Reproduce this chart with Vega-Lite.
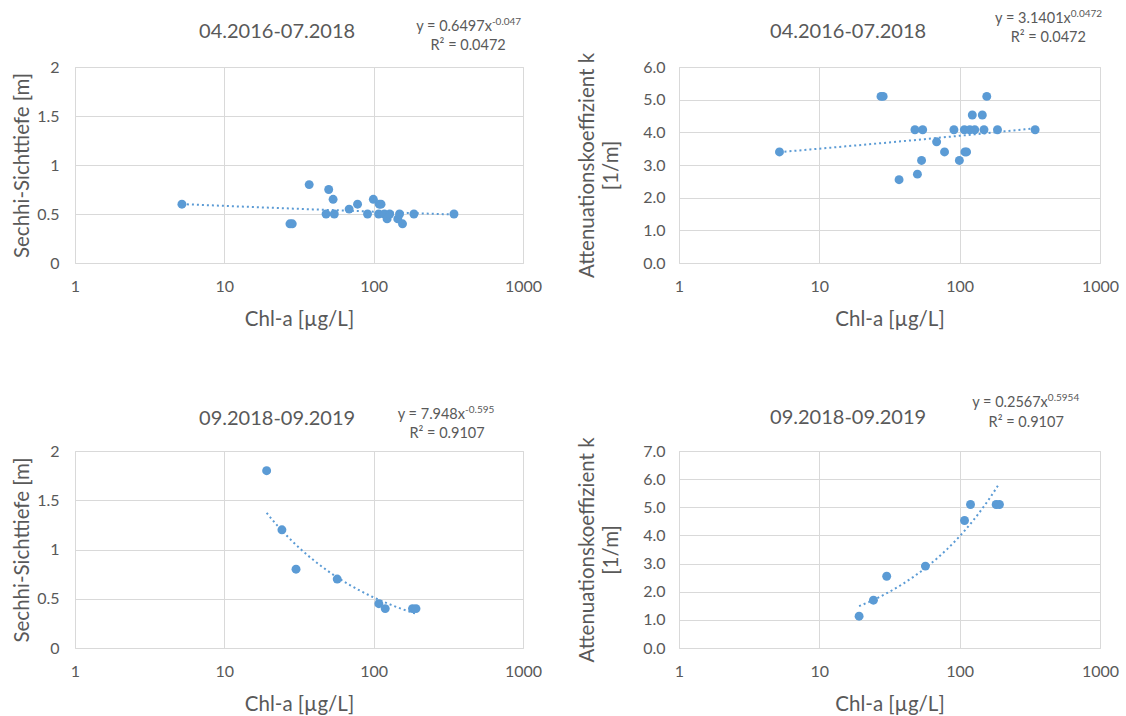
{
  "$schema": "https://vega.github.io/schema/vega-lite/v6.json",
  "padding": {"left": 12, "top": 8, "right": 0, "bottom": 0},
  "background": "white",
  "datasets": {
    "top": [
      {"chl": 5.2, "sd": 0.6, "k": 3.4},
      {"chl": 27.5, "sd": 0.4, "k": 5.1},
      {"chl": 28.5, "sd": 0.4, "k": 5.1},
      {"chl": 37, "sd": 0.8, "k": 2.55},
      {"chl": 48, "sd": 0.5, "k": 4.08},
      {"chl": 50, "sd": 0.75, "k": 2.72},
      {"chl": 53.5, "sd": 0.65, "k": 3.14},
      {"chl": 54.5, "sd": 0.5, "k": 4.08},
      {"chl": 68.5, "sd": 0.55, "k": 3.71},
      {"chl": 78, "sd": 0.6, "k": 3.4},
      {"chl": 91, "sd": 0.5, "k": 4.08},
      {"chl": 99.5, "sd": 0.65, "k": 3.14},
      {"chl": 108, "sd": 0.5, "k": 4.08},
      {"chl": 109, "sd": 0.6, "k": 3.4},
      {"chl": 112, "sd": 0.6, "k": 3.4},
      {"chl": 118, "sd": 0.5, "k": 4.08},
      {"chl": 123, "sd": 0.45, "k": 4.53},
      {"chl": 128, "sd": 0.5, "k": 4.08},
      {"chl": 145, "sd": 0.45, "k": 4.53},
      {"chl": 149, "sd": 0.5, "k": 4.08},
      {"chl": 156, "sd": 0.4, "k": 5.1},
      {"chl": 186, "sd": 0.5, "k": 4.08},
      {"chl": 345, "sd": 0.5, "k": 4.08}
    ],
    "bottom": [
      {"chl": 19.2, "sd": 1.8, "k": 1.13},
      {"chl": 24.3, "sd": 1.2, "k": 1.7},
      {"chl": 30.2, "sd": 0.8, "k": 2.55},
      {"chl": 57, "sd": 0.7, "k": 2.91},
      {"chl": 108.3, "sd": 0.45, "k": 4.53},
      {"chl": 119.5, "sd": 0.4, "k": 5.1},
      {"chl": 182, "sd": 0.4, "k": 5.1},
      {"chl": 192, "sd": 0.4, "k": 5.1}
    ],
    "eq": [
      {"panel": "TL", "main": "y = 0.6497x", "sup": "-0.047", "r2": "R² = 0.0472"},
      {"panel": "TR", "main": "y = 3.1401x", "sup": "0.0472", "r2": "R² = 0.0472"},
      {"panel": "BL", "main": "y = 7.948x", "sup": "-0.595", "r2": "R² = 0.9107"},
      {"panel": "BR", "main": "y = 0.2567x", "sup": "0.5954", "r2": "R² = 0.9107"}
    ]
  },
  "config": {
    "font": "Lato",
    "view": {"stroke": "#D9D9D9", "strokeWidth": 1},
    "axis": {
      "gridColor": "#D9D9D9",
      "domain": false,
      "ticks": false,
      "tickSize": 0,
      "labelColor": "#595959",
      "titleColor": "#595959",
      "labelFontSize": 16,
      "titleFontSize": 20.5,
      "titleFontWeight": "normal",
      "labelFont": "Lato",
      "titleFont": "Lato",
      "titleLineHeight": 24
    },
    "axisX": {"labelPadding": 15, "titlePadding": 15, "labelFlush": false},
    "title": {"font": "Lato", "fontSize": 20, "fontWeight": "normal", "color": "#595959", "frame": "bounds", "anchor": "middle"},
    "text": {"font": "Lato", "color": "#595959"}
  },
  "vconcat": [
    {
      "hconcat": [
        {
          "width": 448, "height": 196,
          "title": {"text": "04.2016-07.2018", "offset": -25},
          "layer": [
            {
              "data": {"name": "top"},
              "mark": {"type": "point", "filled": true, "size": 80, "opacity": 1, "color": "#5B9BD5"},
              "encoding": {
                "x": {"field": "chl", "type": "quantitative", "scale": {"type": "log", "domain": [1, 1000]}, "axis": {"values": [1, 10, 100, 1000], "format": "d", "title": "Chl-a [µg/L]"}},
                "y": {"field": "sd", "type": "quantitative", "scale": {"domain": [0, 2]}, "axis": {"values": [0, 0.5, 1, 1.5, 2], "format": "~g", "title": "Sechhi-Sichttiefe [m]", "labelPadding": 16, "titlePadding": 4}}
              }
            },
            {
              "data": {"name": "top"},
              "transform": [{"regression": "sd", "on": "chl", "method": "pow"}],
              "mark": {"type": "line", "color": "#5B9BD5", "strokeWidth": 2, "strokeDash": [2, 3]},
              "encoding": {
                "x": {"field": "chl", "type": "quantitative", "axis": {"values": [1, 10, 100, 1000], "format": "d", "title": "Chl-a [µg/L]"}},
                "y": {"field": "sd", "type": "quantitative", "axis": {"values": [0, 0.5, 1, 1.5, 2], "format": "~g", "title": "Sechhi-Sichttiefe [m]", "labelPadding": 16, "titlePadding": 4}}
              }
            },
            {
              "data": {"name": "eq"},
              "transform": [{"filter": "datum.panel == 'TL'"}],
              "mark": {"type": "text", "align": "right", "baseline": "middle", "fontSize": 14.5, "clip": false},
              "encoding": {"x": {"datum": 619, "type": "quantitative", "axis": {"values": [1, 10, 100, 1000], "format": "d", "title": "Chl-a [µg/L]"}}, "y": {"datum": 2.407, "type": "quantitative", "axis": {"values": [0, 0.5, 1, 1.5, 2], "format": "~g", "title": "Sechhi-Sichttiefe [m]", "labelPadding": 16, "titlePadding": 4}}, "text": {"field": "main"}}
            },
            {
              "data": {"name": "eq"},
              "transform": [{"filter": "datum.panel == 'TL'"}],
              "mark": {"type": "text", "align": "left", "baseline": "middle", "fontSize": 10, "dy": -5, "clip": false},
              "encoding": {"x": {"datum": 619, "type": "quantitative", "axis": {"values": [1, 10, 100, 1000], "format": "d", "title": "Chl-a [µg/L]"}}, "y": {"datum": 2.407, "type": "quantitative", "axis": {"values": [0, 0.5, 1, 1.5, 2], "format": "~g", "title": "Sechhi-Sichttiefe [m]", "labelPadding": 16, "titlePadding": 4}}, "text": {"field": "sup"}}
            },
            {
              "data": {"name": "eq"},
              "transform": [{"filter": "datum.panel == 'TL'"}],
              "mark": {"type": "text", "align": "center", "baseline": "middle", "fontSize": 14.5, "clip": false},
              "encoding": {"x": {"datum": 429, "type": "quantitative", "axis": {"values": [1, 10, 100, 1000], "format": "d", "title": "Chl-a [µg/L]"}}, "y": {"datum": 2.211, "type": "quantitative", "axis": {"values": [0, 0.5, 1, 1.5, 2], "format": "~g", "title": "Sechhi-Sichttiefe [m]", "labelPadding": 16, "titlePadding": 4}}, "text": {"field": "r2"}}
            }
          ]
        },
        {
          "width": 421, "height": 196,
          "title": {"text": "04.2016-07.2018", "offset": -33},
          "layer": [
            {
              "data": {"name": "top"},
              "mark": {"type": "point", "filled": true, "size": 80, "opacity": 1, "color": "#5B9BD5"},
              "encoding": {
                "x": {"field": "chl", "type": "quantitative", "scale": {"type": "log", "domain": [1, 1000]}, "axis": {"values": [1, 10, 100, 1000], "format": "d", "title": "Chl-a [µg/L]"}},
                "y": {"field": "k", "type": "quantitative", "scale": {"domain": [0, 6]}, "axis": {"values": [0, 1, 2, 3, 4, 5, 6], "format": ".1f", "title": ["Attenuationskoeffizient k", "[1/m]"], "labelPadding": 14, "titlePadding": 21}}
              }
            },
            {
              "data": {"name": "top"},
              "transform": [{"regression": "k", "on": "chl", "method": "pow"}],
              "mark": {"type": "line", "color": "#5B9BD5", "strokeWidth": 2, "strokeDash": [2, 3]},
              "encoding": {
                "x": {"field": "chl", "type": "quantitative", "axis": {"values": [1, 10, 100, 1000], "format": "d", "title": "Chl-a [µg/L]"}},
                "y": {"field": "k", "type": "quantitative", "axis": {"values": [0, 1, 2, 3, 4, 5, 6], "format": ".1f", "title": ["Attenuationskoeffizient k", "[1/m]"], "labelPadding": 14, "titlePadding": 21}}
              }
            },
            {
              "data": {"name": "eq"},
              "transform": [{"filter": "datum.panel == 'TR'"}],
              "mark": {"type": "text", "align": "right", "baseline": "middle", "fontSize": 14.5, "clip": false},
              "encoding": {"x": {"datum": 619, "type": "quantitative", "axis": {"values": [1, 10, 100, 1000], "format": "d", "title": "Chl-a [µg/L]"}}, "y": {"datum": 7.455, "type": "quantitative", "axis": {"values": [0, 1, 2, 3, 4, 5, 6], "format": ".1f", "title": ["Attenuationskoeffizient k", "[1/m]"], "labelPadding": 14, "titlePadding": 21}}, "text": {"field": "main"}}
            },
            {
              "data": {"name": "eq"},
              "transform": [{"filter": "datum.panel == 'TR'"}],
              "mark": {"type": "text", "align": "left", "baseline": "middle", "fontSize": 10, "dy": -5, "clip": false},
              "encoding": {"x": {"datum": 619, "type": "quantitative", "axis": {"values": [1, 10, 100, 1000], "format": "d", "title": "Chl-a [µg/L]"}}, "y": {"datum": 7.455, "type": "quantitative", "axis": {"values": [0, 1, 2, 3, 4, 5, 6], "format": ".1f", "title": ["Attenuationskoeffizient k", "[1/m]"], "labelPadding": 14, "titlePadding": 21}}, "text": {"field": "sup"}}
            },
            {
              "data": {"name": "eq"},
              "transform": [{"filter": "datum.panel == 'TR'"}],
              "mark": {"type": "text", "align": "center", "baseline": "middle", "fontSize": 14.5, "clip": false},
              "encoding": {"x": {"datum": 428, "type": "quantitative", "axis": {"values": [1, 10, 100, 1000], "format": "d", "title": "Chl-a [µg/L]"}}, "y": {"datum": 6.884, "type": "quantitative", "axis": {"values": [0, 1, 2, 3, 4, 5, 6], "format": ".1f", "title": ["Attenuationskoeffizient k", "[1/m]"], "labelPadding": 14, "titlePadding": 21}}, "text": {"field": "r2"}}
            }
          ]
        }
      ],
      "spacing": 34
    },
    {
      "hconcat": [
        {
          "width": 448, "height": 197,
          "title": {"text": "09.2018-09.2019", "offset": -24},
          "layer": [
            {
              "data": {"name": "bottom"},
              "mark": {"type": "point", "filled": true, "size": 80, "opacity": 1, "color": "#5B9BD5"},
              "encoding": {
                "x": {"field": "chl", "type": "quantitative", "scale": {"type": "log", "domain": [1, 1000]}, "axis": {"values": [1, 10, 100, 1000], "format": "d", "title": "Chl-a [µg/L]"}},
                "y": {"field": "sd", "type": "quantitative", "scale": {"domain": [0, 2]}, "axis": {"values": [0, 0.5, 1, 1.5, 2], "format": "~g", "title": "Sechhi-Sichttiefe [m]", "labelPadding": 16, "titlePadding": 4}}
              }
            },
            {
              "data": {"name": "bottom"},
              "transform": [{"regression": "sd", "on": "chl", "method": "pow"}],
              "mark": {"type": "line", "color": "#5B9BD5", "strokeWidth": 2, "strokeDash": [2, 3]},
              "encoding": {
                "x": {"field": "chl", "type": "quantitative", "axis": {"values": [1, 10, 100, 1000], "format": "d", "title": "Chl-a [µg/L]"}},
                "y": {"field": "sd", "type": "quantitative", "axis": {"values": [0, 0.5, 1, 1.5, 2], "format": "~g", "title": "Sechhi-Sichttiefe [m]", "labelPadding": 16, "titlePadding": 4}}
              }
            },
            {
              "data": {"name": "eq"},
              "transform": [{"filter": "datum.panel == 'BL'"}],
              "mark": {"type": "text", "align": "right", "baseline": "middle", "fontSize": 14.5, "clip": false},
              "encoding": {"x": {"datum": 409, "type": "quantitative", "axis": {"values": [1, 10, 100, 1000], "format": "d", "title": "Chl-a [µg/L]"}}, "y": {"datum": 2.37, "type": "quantitative", "axis": {"values": [0, 0.5, 1, 1.5, 2], "format": "~g", "title": "Sechhi-Sichttiefe [m]", "labelPadding": 16, "titlePadding": 4}}, "text": {"field": "main"}}
            },
            {
              "data": {"name": "eq"},
              "transform": [{"filter": "datum.panel == 'BL'"}],
              "mark": {"type": "text", "align": "left", "baseline": "middle", "fontSize": 10, "dy": -5, "clip": false},
              "encoding": {"x": {"datum": 409, "type": "quantitative", "axis": {"values": [1, 10, 100, 1000], "format": "d", "title": "Chl-a [µg/L]"}}, "y": {"datum": 2.37, "type": "quantitative", "axis": {"values": [0, 0.5, 1, 1.5, 2], "format": "~g", "title": "Sechhi-Sichttiefe [m]", "labelPadding": 16, "titlePadding": 4}}, "text": {"field": "sup"}}
            },
            {
              "data": {"name": "eq"},
              "transform": [{"filter": "datum.panel == 'BL'"}],
              "mark": {"type": "text", "align": "center", "baseline": "middle", "fontSize": 14.5, "clip": false},
              "encoding": {"x": {"datum": 310, "type": "quantitative", "axis": {"values": [1, 10, 100, 1000], "format": "d", "title": "Chl-a [µg/L]"}}, "y": {"datum": 2.177, "type": "quantitative", "axis": {"values": [0, 0.5, 1, 1.5, 2], "format": "~g", "title": "Sechhi-Sichttiefe [m]", "labelPadding": 16, "titlePadding": 4}}, "text": {"field": "r2"}}
            }
          ]
        },
        {
          "width": 421, "height": 197,
          "title": {"text": "09.2018-09.2019", "offset": -35},
          "layer": [
            {
              "data": {"name": "bottom"},
              "mark": {"type": "point", "filled": true, "size": 80, "opacity": 1, "color": "#5B9BD5"},
              "encoding": {
                "x": {"field": "chl", "type": "quantitative", "scale": {"type": "log", "domain": [1, 1000]}, "axis": {"values": [1, 10, 100, 1000], "format": "d", "title": "Chl-a [µg/L]"}},
                "y": {"field": "k", "type": "quantitative", "scale": {"domain": [0, 7]}, "axis": {"values": [0, 1, 2, 3, 4, 5, 6, 7], "format": ".1f", "title": ["Attenuationskoeffizient k", "[1/m]"], "labelPadding": 14, "titlePadding": 21}}
              }
            },
            {
              "data": {"name": "bottom"},
              "transform": [{"regression": "k", "on": "chl", "method": "pow"}],
              "mark": {"type": "line", "color": "#5B9BD5", "strokeWidth": 2, "strokeDash": [2, 3]},
              "encoding": {
                "x": {"field": "chl", "type": "quantitative", "axis": {"values": [1, 10, 100, 1000], "format": "d", "title": "Chl-a [µg/L]"}},
                "y": {"field": "k", "type": "quantitative", "axis": {"values": [0, 1, 2, 3, 4, 5, 6, 7], "format": ".1f", "title": ["Attenuationskoeffizient k", "[1/m]"], "labelPadding": 14, "titlePadding": 21}}
              }
            },
            {
              "data": {"name": "eq"},
              "transform": [{"filter": "datum.panel == 'BR'"}],
              "mark": {"type": "text", "align": "right", "baseline": "middle", "fontSize": 14.5, "clip": false},
              "encoding": {"x": {"datum": 425, "type": "quantitative", "axis": {"values": [1, 10, 100, 1000], "format": "d", "title": "Chl-a [µg/L]"}}, "y": {"datum": 8.7, "type": "quantitative", "axis": {"values": [0, 1, 2, 3, 4, 5, 6, 7], "format": ".1f", "title": ["Attenuationskoeffizient k", "[1/m]"], "labelPadding": 14, "titlePadding": 21}}, "text": {"field": "main"}}
            },
            {
              "data": {"name": "eq"},
              "transform": [{"filter": "datum.panel == 'BR'"}],
              "mark": {"type": "text", "align": "left", "baseline": "middle", "fontSize": 10, "dy": -5, "clip": false},
              "encoding": {"x": {"datum": 425, "type": "quantitative", "axis": {"values": [1, 10, 100, 1000], "format": "d", "title": "Chl-a [µg/L]"}}, "y": {"datum": 8.7, "type": "quantitative", "axis": {"values": [0, 1, 2, 3, 4, 5, 6, 7], "format": ".1f", "title": ["Attenuationskoeffizient k", "[1/m]"], "labelPadding": 14, "titlePadding": 21}}, "text": {"field": "sup"}}
            },
            {
              "data": {"name": "eq"},
              "transform": [{"filter": "datum.panel == 'BR'"}],
              "mark": {"type": "text", "align": "center", "baseline": "middle", "fontSize": 14.5, "clip": false},
              "encoding": {"x": {"datum": 298, "type": "quantitative", "axis": {"values": [1, 10, 100, 1000], "format": "d", "title": "Chl-a [µg/L]"}}, "y": {"datum": 8.007, "type": "quantitative", "axis": {"values": [0, 1, 2, 3, 4, 5, 6, 7], "format": ".1f", "title": ["Attenuationskoeffizient k", "[1/m]"], "labelPadding": 14, "titlePadding": 21}}, "text": {"field": "r2"}}
            }
          ]
        }
      ],
      "spacing": 34
    }
  ],
  "spacing": 62
}
